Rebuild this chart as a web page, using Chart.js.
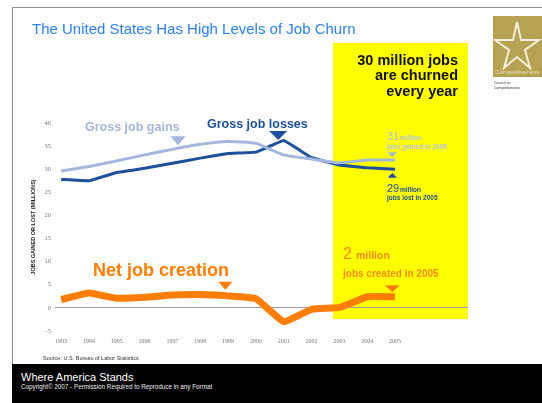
<!DOCTYPE html>
<html>
<head>
<meta charset="utf-8">
<script src="https://cdn.jsdelivr.net/npm/chart.js@4"></script>
<style>
  html, body { margin: 0; padding: 0; background: #fff; }
  body { width: 542px; height: 403px; position: relative; overflow: hidden; font-family: "Liberation Sans", Arial, sans-serif; }
  #chart { position: absolute; left: 0; top: 0; }
  .slide { position: absolute; left: 12px; top: 7px; width: 540px; height: 360px; border-left: 1.5px solid #8c8c8c; border-top: 1.5px solid #8c8c8c; }
  .txt { position: absolute; white-space: nowrap; }
  #title { left: 32px; top: 21px; font-size: 15px; line-height: 15px; color: #2b7ff0; }
  #source { left: 43px; top: 356px; font-size: 5.5px; line-height: 5.5px; color: #333; }
  #footer { position: absolute; left: 12px; top: 364px; width: 530px; height: 39px; background: #000; }
  #where { left: 21px; top: 372px; font-size: 11px; line-height: 11px; color: #fff; }
  #copy { left: 21px; top: 384px; font-size: 6.3px; line-height: 6.3px; color: #eee; }
  #logo { position: absolute; left: 493px; top: 16px; }
</style>
</head>
<body>
<div class="slide"></div>
<canvas id="chart" width="542" height="403"></canvas>
<div class="txt" id="title">The United States Has High Levels of Job Churn</div>
<div class="txt" id="source">Source: U.S. Bureau of Labor Statistics</div>
<div id="footer"></div>
<div class="txt" id="where">Where America Stands</div>
<div class="txt" id="copy">Copyright© 2007 - Permission Required to Reproduce in any Format</div>
<svg id="logo" width="49" height="77" viewBox="0 0 49 77">
  <rect x="0" y="0" width="49" height="61" fill="#b5a253"/>
  <polygon points="24,6 28,24 46,24 32,34 37,52 24,41 11,52 16,34 2,24 20,24" fill="none" stroke="#f4efd8" stroke-width="2"/>
  <text x="2" y="58" font-size="6" fill="#e9e1b8" font-family="Liberation Sans">Competitiveness</text>
  <text x="1" y="68" font-size="3.5" fill="#333" font-family="Liberation Sans">Council on</text>
  <text x="1" y="73" font-size="3.5" fill="#333" font-family="Liberation Sans">Competitiveness</text>
</svg>
<script>
// years on the x axis
const years = [1993, 1994, 1995, 1996, 1997, 1998, 1999, 2000, 2001, 2002, 2003, 2004, 2005];
const yearLabels = ['1993', '1994', '1995', '1996', '1997', '1998', '1999', '2000', '2001', '2002', '2003', '2004', '2005'];

// millions of jobs
const grossGains  = [29.6, 30.6, 31.8, 33.1, 34.3, 35.4, 36.0, 35.6, 33.1, 32.2, 31.4, 32.0, 32.0];
const grossLosses = [27.8, 27.5, 29.3, 30.2, 31.3, 32.4, 33.4, 33.7, 36.2, 32.5, 30.9, 30.3, 30.0];
const netCreation = [1.8, 3.2, 2.1, 2.3, 2.8, 2.9, 2.6, 2.0, -3.0, -0.3, 0.1, 2.4, 2.4];

const yTicks = [-5, 0, 5, 10, 15, 20, 25, 30, 35, 40];

const LIGHT = '#a5b6dc';
const DARK = '#1d4f9c';
const ORANGE = '#ff7d00';

function toPoints(vals) {
  return vals.map((v, i) => ({ x: years[i], y: v }));
}

function triangle(ctx, cx, tipY, w, h, down, color) {
  ctx.fillStyle = color;
  ctx.beginPath();
  if (down) {
    ctx.moveTo(cx - w / 2, tipY - h);
    ctx.lineTo(cx + w / 2, tipY - h);
  } else {
    ctx.moveTo(cx - w / 2, tipY + h);
    ctx.lineTo(cx + w / 2, tipY + h);
  }
  ctx.lineTo(cx, tipY);
  ctx.closePath();
  ctx.fill();
}

function text(ctx, str, x, y, size, color, bold, align) {
  ctx.font = (bold ? 'bold ' : '') + size + 'px "Liberation Sans", Arial, sans-serif';
  ctx.fillStyle = color;
  ctx.textAlign = align || 'left';
  ctx.textBaseline = 'alphabetic';
  ctx.fillText(str, x, y);
}

const churnPlugin = {
  id: 'churn',
  beforeDraw(chart) {
    // yellow highlight behind the last years
    const { ctx, chartArea, scales: { x, y } } = chart;
    const left = x.getPixelForValue(2002.77);
    ctx.save();
    ctx.fillStyle = '#ffff00';
    ctx.fillRect(left, 43, chartArea.right - left, y.getPixelForValue(-2.4) - 43);
    ctx.restore();
  },
  afterDatasetsDraw(chart) {
    const { ctx, scales: { x, y } } = chart;
    ctx.save();

    text(ctx, 'Gross job gains', 85, 130.7, 12.5, LIGHT, true);
    triangle(ctx, x.getPixelForValue(1997.2), y.getPixelForValue(35.2), 15, 9, true, LIGHT);

    text(ctx, 'Gross job losses', 207, 128.3, 12.5, DARK, true);
    triangle(ctx, x.getPixelForValue(2000.8), y.getPixelForValue(36.3), 18, 9, true, DARK);

    text(ctx, 'Net job creation', 93, 276, 18, ORANGE, true);
    triangle(ctx, x.getPixelForValue(1998.9), y.getPixelForValue(3.9), 14, 8, true, ORANGE);

    text(ctx, '30 million jobs', 458, 65, 14.5, '#111', true, 'right');
    text(ctx, 'are churned', 458, 80, 14.5, '#111', true, 'right');
    text(ctx, 'every year', 458, 95.5, 14.5, '#111', true, 'right');

    text(ctx, '31', 387, 140, 11, '#b4c2e2', false);
    text(ctx, 'million', 400, 140, 6.5, '#b4c2e2', true);
    text(ctx, 'jobs gained in 2005', 387, 148.5, 6.5, '#b4c2e2', true);
    triangle(ctx, x.getPixelForValue(2004.9), y.getPixelForValue(32.6), 9, 5, true, LIGHT);

    triangle(ctx, x.getPixelForValue(2004.9), y.getPixelForValue(29.25), 9, 5, false, DARK);
    text(ctx, '29', 387, 191.5, 11, DARK, false);
    text(ctx, 'million', 400, 191.5, 6.5, DARK, true);
    text(ctx, 'jobs lost in 2005', 387, 200, 6.5, DARK, true);

    text(ctx, '2', 343, 258.5, 16, '#ff8a14', false);
    text(ctx, 'million', 356, 258.5, 10.5, '#ff8a14', true);
    text(ctx, 'jobs created in 2005', 343, 277, 10, '#ff8a14', true);
    triangle(ctx, x.getPixelForValue(2004.9), y.getPixelForValue(3.4), 15, 7, true, ORANGE);

    ctx.restore();
  }
};

new Chart(document.getElementById('chart').getContext('2d'), {
  type: 'line',
  data: {
    datasets: [
      {
        label: 'Net job creation',
        data: toPoints(netCreation),
        borderColor: ORANGE,
        borderWidth: 7,
        borderCapStyle: 'butt',
        pointRadius: 0,
        tension: 0.1,
        fill: false
      },
      {
        label: 'Gross job gains',
        data: toPoints(grossGains),
        borderColor: LIGHT,
        borderWidth: 3,
        pointRadius: 0,
        tension: 0.15,
        fill: false
      },
      {
        label: 'Gross job losses',
        data: toPoints(grossLosses),
        borderColor: DARK,
        borderWidth: 3,
        pointRadius: 0,
        tension: 0.05,
        fill: false
      }
    ]
  },
  options: {
    responsive: false,
    animation: false,
    devicePixelRatio: 1,
    layout: { padding: { left: 30, right: 74, top: 123, bottom: 54 } },
    plugins: { legend: { display: false }, tooltip: { enabled: false } },
    scales: {
      x: {
        type: 'linear',
        min: 1992.78,
        max: 2007.62,
        afterFit: s => { s.height = 18; },
        afterBuildTicks: s => { s.ticks = years.map(v => ({ value: v })); },
        grid: { display: false, drawTicks: false },
        border: { display: false },
        ticks: {
          autoSkip: false,
          maxRotation: 0,
          padding: 7,
          color: '#777',
          font: { size: 6, family: '"Liberation Serif", serif' },
          callback: (v) => yearLabels[years.indexOf(v)]
        }
      },
      y: {
        min: -5,
        max: 40,
        afterFit: s => { s.width = 25; },
        afterBuildTicks: s => { s.ticks = yTicks.map(v => ({ value: v })); },
        border: { display: false },
        grid: {
          drawTicks: false,
          color: ctx => ctx.tick && ctx.tick.value === 0 ? '#a0a0a0' : 'rgba(0,0,0,0)',
          lineWidth: 1
        },
        ticks: {
          padding: 4,
          color: '#777',
          font: { size: 6.5, family: '"Liberation Serif", serif' }
        },
        title: {
          display: true,
          text: 'JOBS GAINED OR LOST (MILLIONS)',
          color: '#222',
          padding: 0,
          font: { size: 5.5, weight: 'bold' }
        }
      }
    }
  },
  plugins: [churnPlugin]
});
</script>
</body>
</html>
